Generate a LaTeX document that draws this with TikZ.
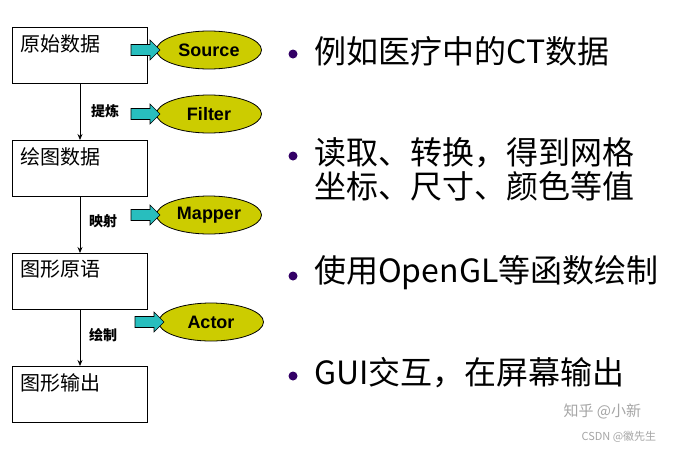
\documentclass[tikz,border=0pt]{standalone}
\usepackage{fontspec}
\setmainfont{Liberation Sans}
\newfontfamily\cjk{Noto Sans CJK SC}
\usetikzlibrary{shapes.geometric,arrows.meta}
\definecolor{ellfill}{RGB}{204,204,0}
\definecolor{arrfill}{RGB}{40,190,190}
\definecolor{dotc}{RGB}{51,0,102}
\begin{document}
\begin{tikzpicture}[x=1pt,y=-1pt,
  box/.style={draw,line width=0.8pt,minimum width=135pt,minimum height=56pt,anchor=north west,inner sep=0},
  boxtxt/.style={anchor=north west,inner sep=0,font=\cjk\fontsize{20}{20}\selectfont},
  ell/.style={ellipse,draw,line width=0.8pt,fill=ellfill,minimum width=105pt,minimum height=38pt,inner sep=0,font=\bfseries\fontsize{18}{18}\selectfont},
  lab/.style={font=\cjk\bfseries\fontsize{14}{14}\selectfont},
  bul/.style={anchor=west,inner sep=0,font=\cjk\fontsize{32}{32}\selectfont},
  dot/.style={circle,fill=dotc,inner sep=0,minimum size=9pt},
  wm/.style={text=gray!70,font=\cjk\fontsize{15}{15}\selectfont}]
\useasboundingbox (0,0) rectangle (687,453);
\fill[white] (0,0) rectangle (687,453);
\node[box] (b1) at (12,27) {};
\node[box] (b2) at (12,140) {};
\node[box] (b3) at (12,253) {};
\node[box] (b4) at (12,366) {};
\node[boxtxt] (t1) at (20,34) {原始数据};
\node[boxtxt] (t2) at (20,147) {绘图数据};
\node[boxtxt] (t3) at (20,260) {图形原语};
\node[boxtxt] (t4) at (20,373) {图形输出};
\draw[-{Stealth[length=6pt,width=5pt]},line width=0.8pt] (b1.south -| 80,0) -- (b2.north -| 80,0);
\draw[-{Stealth[length=6pt,width=5pt]},line width=0.8pt] (b2.south -| 80,0) -- (b3.north -| 80,0);
\draw[-{Stealth[length=6pt,width=5pt]},line width=0.8pt] (b3.south -| 80,0) -- (b4.north -| 80,0);
\node[lab] (l1) at (105,111) {提炼};
\node[lab] (l2) at (103,221) {映射};
\node[lab] (l3) at (103,335) {绘制};
\node[ell] (e1) at (209,50) {Source};
\node[ell] (e2) at (209,114) {Filter};
\node[ell] (e3) at (209,215) {Mapper};
\node[ell] (e4) at (211,322) {Actor};
\foreach \n/\y/\x in {e1/50/131,e2/114/131,e3/215/131,e4/322/135}{
  \draw[fill=arrfill,line width=0.6pt] (\x,\y-5.5) -- (\x+19,\y-5.5) -- (\x+19,\y-10) -- (\x+29,\y) -- (\x+19,\y+10) -- (\x+19,\y+5.5) -- (\x,\y+5.5) -- cycle;
}
\node[dot] (d1) at (293,54) {};
\node[dot] (d2) at (293,156) {};
\node[dot] (d3) at (293,276) {};
\node[dot] (d4) at (293,376) {};
\node[bul] (s1) at (314,51) {例如医疗中的CT数据};
\node[bul] (s2) at (314,153) {读取、转换，得到网格};
\node[bul] (s2b) at (314,186) {坐标、尺寸、颜色等值};
\node[bul] (s3) at (314,273) {使用OpenGL等函数绘制};
\node[bul] (s4) at (314,373) {GUI交互，在屏幕输出};
\node[wm,anchor=west] (w1) at (560,411) {知乎 @小新};
\node[wm,anchor=west,font=\cjk\fontsize{11}{11}\selectfont] (w2) at (578,437) {CSDN @徽先生};
\end{tikzpicture}
\end{document}
